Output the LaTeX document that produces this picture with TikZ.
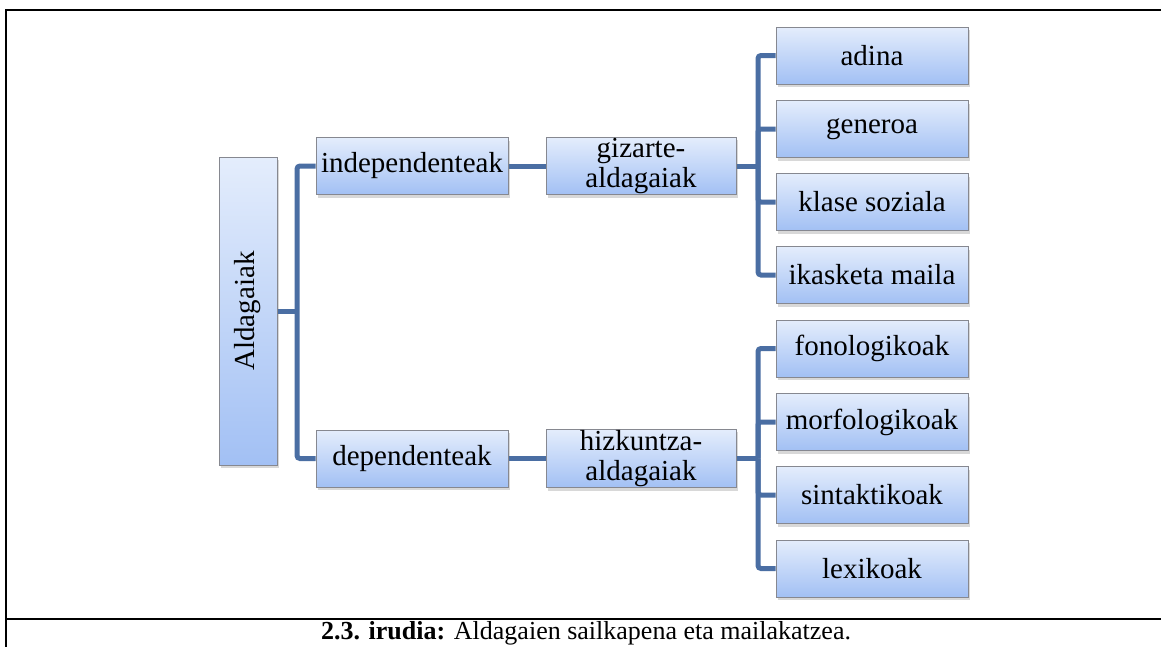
\documentclass[tikz,border=0pt]{standalone}
\usepackage{fontspec}
\setmainfont{Liberation Serif}
\usepackage{graphicx}
\usepackage{xcolor}
\usetikzlibrary{shadows}
\definecolor{Ink}{HTML}{000000}
\definecolor{BoxTop}{HTML}{E4EDFC}
\definecolor{BoxBottom}{HTML}{A2C0F4}
\definecolor{BoxLine}{HTML}{868890}
\definecolor{Link}{HTML}{4A6EA3}
\tikzset{
  varbox/.style={draw=BoxLine,line width=1pt,top color=BoxTop,bottom color=BoxBottom,
    minimum width=192pt,minimum height=57pt,inner sep=1pt,align=center,text=Ink,
    font=\fontsize{29}{30}\selectfont,
    drop shadow={opacity=0.3,shadow xshift=1.5pt,shadow yshift=-3pt}},
  link/.style={draw=Link,line width=5pt,rounded corners=3pt}
}
\begin{document}
\begin{tikzpicture}[x=1pt,y=-1pt]
\path[use as bounding box,fill=white] (0,0) rectangle (1161,646);
\draw[line width=2.5pt,Ink] (6,648) -- (6,10) -- (1163,10);
\draw[line width=2.5pt,Ink] (6,619) -- (1163,619);
\node[varbox,minimum width=58pt,minimum height=308pt] (agg) at (248,311)
  {\rotatebox{90}{Aldagaiak}};
\node[varbox] (indep) at (412,166) {independenteak};
\node[varbox,minimum width=190pt] (gizarte) at (641,166) {gizarte-\\aldagaiak};
\node[varbox] (dep) at (412,458.5) {dependenteak};
\node[varbox,minimum width=190pt,minimum height=58pt] (hizk) at (641,458.5) {hizkuntza-\\aldagaiak};
\node[varbox] (adina) at (872,55.5) {adina};
\node[varbox] (generoa) at (872,129) {generoa};
\node[varbox] (klase) at (872,202) {klase soziala};
\node[varbox] (ikasketa) at (872,275) {ikasketa maila};
\node[varbox] (fono) at (872,348.5) {fonologikoak};
\node[varbox] (morfo) at (872,422) {morfologikoak};
\node[varbox] (sintak) at (872,495) {sintaktikoak};
\node[varbox] (lexi) at (872,568.5) {lexikoak};
\coordinate (busA) at (297,311);
\coordinate (busG) at (758,166);
\coordinate (busH) at (758,458.5);
\path[link] (agg.east) -- (busA);
\path[link] (indep.west) -| (busA) |- (dep.west);
\path[link] (indep.east) -- (gizarte.west);
\path[link] (dep.east) -- (hizk.west);
\path[link] (gizarte.east) -- (busG);
\path[link] (hizk.east) -- (busH);
\foreach \n in {adina,generoa,klase,ikasketa}
  \path[link] (busG) |- (\n.west);
\foreach \n in {fono,morfo,sintak,lexi}
  \path[link] (busH) |- (\n.west);
\node[anchor=base,font=\fontsize{26}{28}\selectfont,text=Ink] (caption) at (586,639.5)
  {\textbf{2.3. irudia:} Aldagaien sailkapena eta mailakatzea.};
\end{tikzpicture}
\end{document}
